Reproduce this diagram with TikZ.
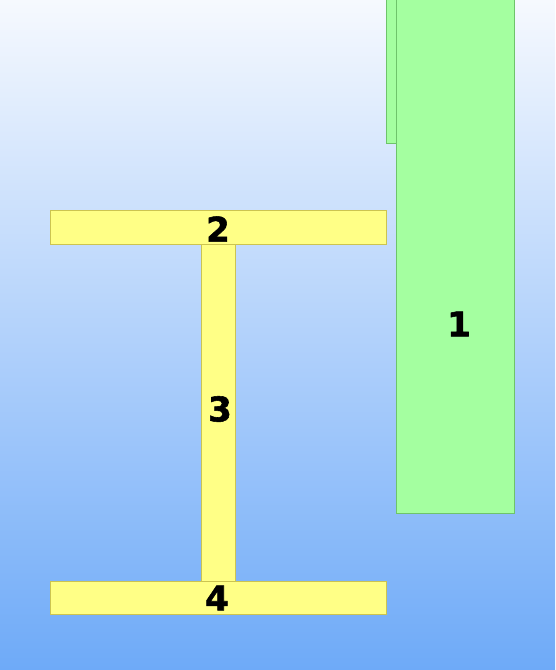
\documentclass[tikz,border=0pt]{standalone}
\usepackage{fontspec}
\setmainfont{DejaVu Sans}
\newfontfamily\labfont[FakeBold=1.6]{DejaVu Sans Bold}
\definecolor{bgtop}{RGB}{246,249,254}
\definecolor{bgbot}{RGB}{110,170,248}
\definecolor{gfill}{RGB}{164,255,160}
\definecolor{gline}{RGB}{110,196,106}
\definecolor{yfill}{RGB}{255,255,134}
\definecolor{yline}{RGB}{204,196,80}
\begin{document}
\begin{tikzpicture}[x=1pt,y=-1pt,
  gbox/.style={draw=gline,fill=gfill,line width=1pt},
  ybox/.style={draw=yline,fill=yfill,line width=1pt},
  lab/.style={font=\labfont\fontsize{34}{34}\selectfont,text=black,inner sep=0pt}]
\useasboundingbox (0,0) rectangle (555,670);
\shade[top color=bgtop,bottom color=bgbot] (0,0) rectangle (555,670);
% green members
\draw[gbox] (386,-2) rectangle (397,143);
\draw[gbox] (396,-2) rectangle (514,513);
% yellow I-section
\draw[ybox] (201,244) rectangle (235,581);
\draw[ybox] (50,210) rectangle (386,244);
\draw[ybox] (50,581) rectangle (386,614);
\node[lab] (n1) at (459,324) {1};
\node[lab] (n2) at (218,229) {2};
\node[lab] (n3) at (220,409) {3};
\node[lab] (n4) at (217,598) {4};
\end{tikzpicture}
\end{document}
